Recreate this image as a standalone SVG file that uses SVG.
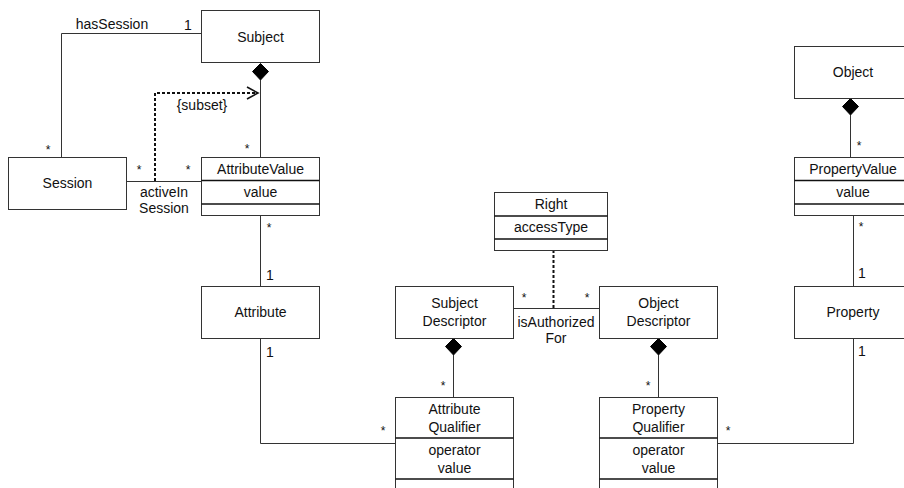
<svg xmlns="http://www.w3.org/2000/svg" width="904" height="488" viewBox="0 0 904 488">
  <style>
    .box { fill: #ffffff; stroke: #333333; stroke-width: 1; }
    .div { stroke: #111111; stroke-width: 1.4; }
    .t { font-family: "Liberation Sans", Arial, sans-serif; font-size: 14px; fill: #111111; text-anchor: middle; }
    .m { font-family: "Liberation Sans", Arial, sans-serif; font-size: 12px; fill: #111111; text-anchor: middle; }
    .ln { fill: none; stroke: #333333; stroke-width: 1; }
    .dash { fill: none; stroke: #111111; stroke-width: 2; stroke-dasharray: 3 2; }
    .dia { fill: #000000; stroke: #000000; stroke-width: 1; }
  </style>
  <rect width="904" height="488" fill="#ffffff"/>

  <!-- connectors -->
  <g id="connectors">
    <!-- hasSession -->
    <polyline class="ln" points="201.5,33.5 61.5,33.5 61.5,157.5"/>
    <text class="t" x="112" y="29">hasSession</text>
    <text class="t" x="188" y="30">1</text>
    <text class="m" x="48" y="154">*</text>

    <!-- Subject composition of AttributeValue -->
    <line class="ln" x1="260.5" y1="80" x2="260.5" y2="157.5"/>
    <polygon class="dia" points="260.5,63.5 268.5,71.5 260.5,80 252.5,71.5"/>
    <text class="m" x="247" y="153">*</text>

    <!-- activeInSession -->
    <line class="ln" x1="126.5" y1="181.5" x2="201.5" y2="181.5"/>
    <text class="m" x="139" y="174">*</text>
    <text class="m" x="188" y="174">*</text>
    <text class="t" x="164" y="197">activeIn</text>
    <text class="t" x="164" y="213">Session</text>

    <!-- {subset} dependency -->
    <polyline class="dash" points="155,181 155,93 256,93"/>
    <polyline fill="none" stroke="#111111" stroke-width="1.6" points="247,87 258,93 247,99"/>
    <text class="t" x="202" y="110">{subset}</text>

    <!-- AttributeValue to Attribute -->
    <line class="ln" x1="260.5" y1="215.5" x2="260.5" y2="286.5"/>
    <text class="m" x="269" y="232">*</text>
    <text class="t" x="270" y="280">1</text>

    <!-- Attribute to AttributeQualifier -->
    <polyline class="ln" points="260.5,338.5 260.5,443.5 395.5,443.5"/>
    <text class="t" x="270" y="357">1</text>
    <text class="m" x="383" y="435">*</text>

    <!-- SubjectDescriptor composition of AttributeQualifier -->
    <line class="ln" x1="453.5" y1="355" x2="453.5" y2="397.5"/>
    <polygon class="dia" points="453.5,338.5 461.5,346.5 453.5,355 445.5,346.5"/>
    <text class="m" x="443" y="390">*</text>

    <!-- isAuthorizedFor -->
    <line class="ln" x1="513.5" y1="308.5" x2="599.5" y2="308.5"/>
    <text class="m" x="524" y="302">*</text>
    <text class="m" x="587" y="302">*</text>
    <text class="t" x="556" y="327">isAuthorized</text>
    <text class="t" x="556" y="343">For</text>

    <!-- Right association class link -->
    <line class="dash" x1="553.5" y1="250" x2="553.5" y2="308"/>

    <!-- ObjectDescriptor composition of PropertyQualifier -->
    <line class="ln" x1="658.5" y1="355" x2="658.5" y2="397.5"/>
    <polygon class="dia" points="658.5,338.5 666.5,346.5 658.5,355 650.5,346.5"/>
    <text class="m" x="648" y="390">*</text>

    <!-- PropertyQualifier to Property -->
    <polyline class="ln" points="717.5,443.5 853.5,443.5 853.5,338.5"/>
    <text class="m" x="728" y="435">*</text>
    <text class="t" x="862" y="356">1</text>

    <!-- Object composition of PropertyValue -->
    <line class="ln" x1="850.5" y1="115" x2="850.5" y2="157.5"/>
    <polygon class="dia" points="850.5,98.5 858.5,106.5 850.5,115 842.5,106.5"/>
    <text class="m" x="859" y="150">*</text>

    <!-- PropertyValue to Property -->
    <line class="ln" x1="853.5" y1="215.5" x2="853.5" y2="286.5"/>
    <text class="m" x="861" y="231">*</text>
    <text class="t" x="862" y="278">1</text>
  </g>

  <!-- nodes -->
  <g id="subject">
    <rect class="box" x="201.5" y="10.5" width="118" height="52"/>
    <text class="t" x="260.5" y="42">Subject</text>
  </g>

  <g id="session">
    <rect class="box" x="8.5" y="157.5" width="118" height="52"/>
    <text class="t" x="67.5" y="188">Session</text>
  </g>

  <g id="attribute-value">
    <rect class="box" x="201.5" y="157.5" width="118" height="58"/>
    <line class="div" x1="201.5" y1="180.5" x2="319.5" y2="180.5"/>
    <line class="div" x1="201.5" y1="204" x2="319.5" y2="204"/>
    <text class="t" x="260.5" y="174">AttributeValue</text>
    <text class="t" x="260.5" y="197">value</text>
  </g>

  <g id="attribute">
    <rect class="box" x="201.5" y="286.5" width="118" height="52"/>
    <text class="t" x="260.5" y="317">Attribute</text>
  </g>

  <g id="right">
    <rect class="box" x="494.5" y="192.5" width="113" height="58"/>
    <line class="div" x1="494.5" y1="216" x2="607.5" y2="216"/>
    <line class="div" x1="494.5" y1="239" x2="607.5" y2="239"/>
    <text class="t" x="551" y="209">Right</text>
    <text class="t" x="551" y="232">accessType</text>
  </g>

  <g id="subject-descriptor">
    <rect class="box" x="395.5" y="286.5" width="118" height="52"/>
    <text class="t" x="454.5" y="308">Subject</text>
    <text class="t" x="454.5" y="326">Descriptor</text>
  </g>

  <g id="object-descriptor">
    <rect class="box" x="599.5" y="286.5" width="118" height="52"/>
    <text class="t" x="658.5" y="308">Object</text>
    <text class="t" x="658.5" y="326">Descriptor</text>
  </g>

  <g id="attribute-qualifier">
    <rect class="box" x="395.5" y="397.5" width="118" height="100"/>
    <line class="div" x1="395.5" y1="438" x2="513.5" y2="438"/>
    <line class="div" x1="395.5" y1="479" x2="513.5" y2="479"/>
    <text class="t" x="454.5" y="414">Attribute</text>
    <text class="t" x="454.5" y="432">Qualifier</text>
    <text class="t" x="454.5" y="455">operator</text>
    <text class="t" x="454.5" y="473">value</text>
  </g>

  <g id="property-qualifier">
    <rect class="box" x="599.5" y="397.5" width="118" height="100"/>
    <line class="div" x1="599.5" y1="438" x2="717.5" y2="438"/>
    <line class="div" x1="599.5" y1="479" x2="717.5" y2="479"/>
    <text class="t" x="658.5" y="414">Property</text>
    <text class="t" x="658.5" y="432">Qualifier</text>
    <text class="t" x="658.5" y="455">operator</text>
    <text class="t" x="658.5" y="473">value</text>
  </g>

  <g id="object">
    <rect class="box" x="794.5" y="46.5" width="118" height="52"/>
    <text class="t" x="853" y="77">Object</text>
  </g>

  <g id="property-value">
    <rect class="box" x="794.5" y="157.5" width="118" height="58"/>
    <line class="div" x1="794.5" y1="180.5" x2="912.5" y2="180.5"/>
    <line class="div" x1="794.5" y1="204" x2="912.5" y2="204"/>
    <text class="t" x="853" y="174">PropertyValue</text>
    <text class="t" x="853" y="197">value</text>
  </g>

  <g id="property">
    <rect class="box" x="794.5" y="286.5" width="118" height="52"/>
    <text class="t" x="853" y="317">Property</text>
  </g>
</svg>
